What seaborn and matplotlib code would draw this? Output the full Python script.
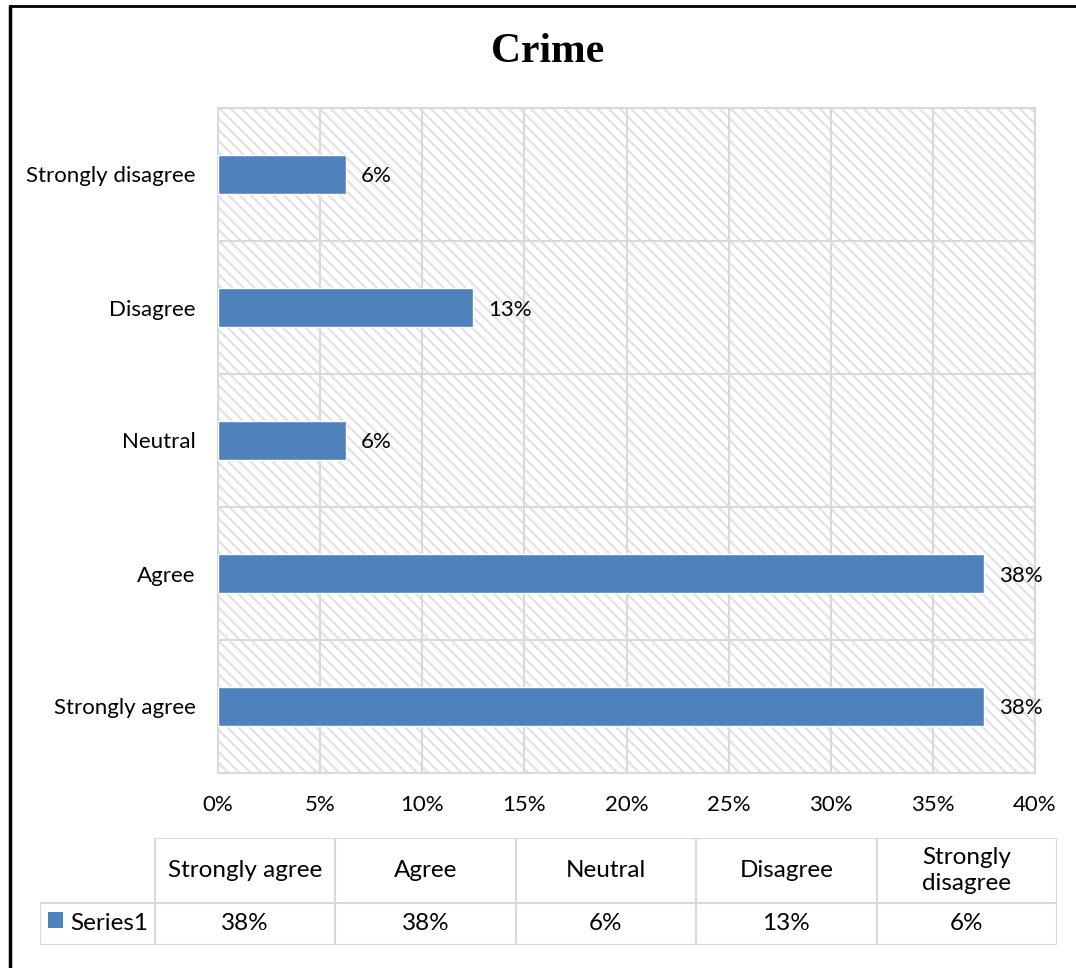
import matplotlib
matplotlib.use("Agg")
import matplotlib.pyplot as plt
import seaborn as sns
import pandas as pd
import numpy as np
from matplotlib.patches import Rectangle
from matplotlib.lines import Line2D
from matplotlib.ticker import PercentFormatter, FixedLocator

# ---------------- data ----------------
title = "Crime"
categories = ["Strongly agree", "Agree", "Neutral", "Disagree", "Strongly disagree"]
table_headers = ["Strongly agree", "Agree", "Neutral", "Disagree", "Strongly\ndisagree"]
values = [0.375, 0.375, 0.0625, 0.125, 0.0625]
series_name = "Series1"
x_ticks = [0.0, 0.05, 0.10, 0.15, 0.20, 0.25, 0.30, 0.35, 0.40]


def pct(v):
    return f"{int(v * 100 + 0.5)}%"


# ---------------- style ----------------
sns.set_theme(style="white")
plt.rcParams['font.family'] = ['Lato', 'DejaVu Sans']
plt.rcParams['hatch.linewidth'] = 1.6

BLUE = "#4F81BD"
GRID = "#d9d9d9"
W, H = 1076, 968
FS = 16
TFS = 17.5

fig = plt.figure(figsize=(W / 100, H / 100), dpi=100)


def fx(px):
    return px / W


def fy(py):
    return 1 - py / H


# ---------------- bar chart ----------------
ax = fig.add_axes([fx(218), fy(773), (1035 - 218) / W, (773 - 108) / H])
df = pd.DataFrame({"category": categories, "value": values})
order = categories[::-1]
sns.barplot(data=df, y="category", x="value", order=order, orient="h",
            color=BLUE, saturation=1, width=0.29, ax=ax)
for p in ax.patches:
    p.set_zorder(3)

ax.add_patch(Rectangle((0, 0), 1, 1, transform=ax.transAxes, facecolor="white",
                       edgecolor="#e2e2e2", hatch="\\\\\\", lw=0, zorder=0.1))
ax.set_axisbelow(True)

lab_vals = df.set_index("category").loc[order, "value"]
texts = ax.bar_label(ax.containers[0], labels=[pct(v) for v in lab_vals],
                     padding=11, fontsize=FS, color="black")
for t in texts:
    t.set_va("center_baseline")

ax.set_xlim(0, 0.40)
ax.set_ylim(len(categories) - 0.5, -0.5)
ax.set_xticks(x_ticks)
ax.xaxis.set_major_formatter(PercentFormatter(1.0, decimals=0))
ax.yaxis.set_minor_locator(FixedLocator(np.arange(-0.5, len(categories), 1.0)))
ax.grid(True, which="major", axis="x", color=GRID, lw=1.5)
ax.grid(True, which="minor", axis="y", color=GRID, lw=1.5)
ax.tick_params(axis="x", which="major", length=0, pad=16, labelsize=FS, labelcolor="black")
ax.tick_params(axis="y", which="major", length=0, pad=16, labelsize=FS, labelcolor="black")
ax.tick_params(axis="y", which="minor", length=8, width=1.5, color=GRID, direction="out")
for t in ax.get_yticklabels():
    t.set_va("center_baseline")
ax.set_xlabel("")
ax.set_ylabel("")
for s in ax.spines.values():
    s.set_color(GRID)
    s.set_linewidth(1.5)

# ---------------- title ----------------
fig.text(fx(548), fy(52), title, fontsize=30, fontweight="bold",
         family=["Liberation Serif", "DejaVu Serif"], ha="center", va="center", color="black")

# ---------------- data table ----------------
first_w = 115
col_w = 180.4
head_h = 65
row_h = 42
tot_w = first_w + col_w * len(categories)
tot_h = head_h + row_h
tax = fig.add_axes([fx(40), fy(945), tot_w / W, tot_h / H])
tax.set_xlim(0, tot_w)
tax.set_ylim(tot_h, 0)
tax.axis("off")
lk = dict(color=GRID, lw=1.5, solid_capstyle="projecting")
tax.plot([first_w, tot_w], [0, 0], **lk)
tax.plot([0, tot_w], [head_h, head_h], **lk)
tax.plot([0, tot_w], [tot_h, tot_h], **lk)
tax.plot([0, 0], [head_h, tot_h], **lk)
for i in range(len(categories) + 1):
    xb = first_w + i * col_w
    tax.plot([xb, xb], [0, tot_h], **lk)
for i, (hdr, v) in enumerate(zip(table_headers, values)):
    xc = first_w + (i + 0.5) * col_w
    tax.text(xc, head_h / 2, hdr, ha="center", va="center", fontsize=TFS,
             color="black", linespacing=1.3)
    tax.text(xc, head_h + row_h / 2, pct(v), ha="center", va="center",
             fontsize=TFS, color="black")
tax.add_patch(Rectangle((8, head_h + 9), 15, 16, facecolor=BLUE, edgecolor="none"))
tax.text(30, head_h + row_h / 2, series_name, ha="left", va="center",
         fontsize=TFS, color="black")

# ---------------- outer frame (partial, as cropped) ----------------
fig.add_artist(Line2D([fx(10), fx(10)], [0, fy(6)], color="black", lw=2.5,
                      transform=fig.transFigure))
fig.add_artist(Line2D([fx(10), 1], [fy(6), fy(6)], color="black", lw=2.0,
                      transform=fig.transFigure))

fig.savefig("out.png", dpi=100, facecolor="white")
